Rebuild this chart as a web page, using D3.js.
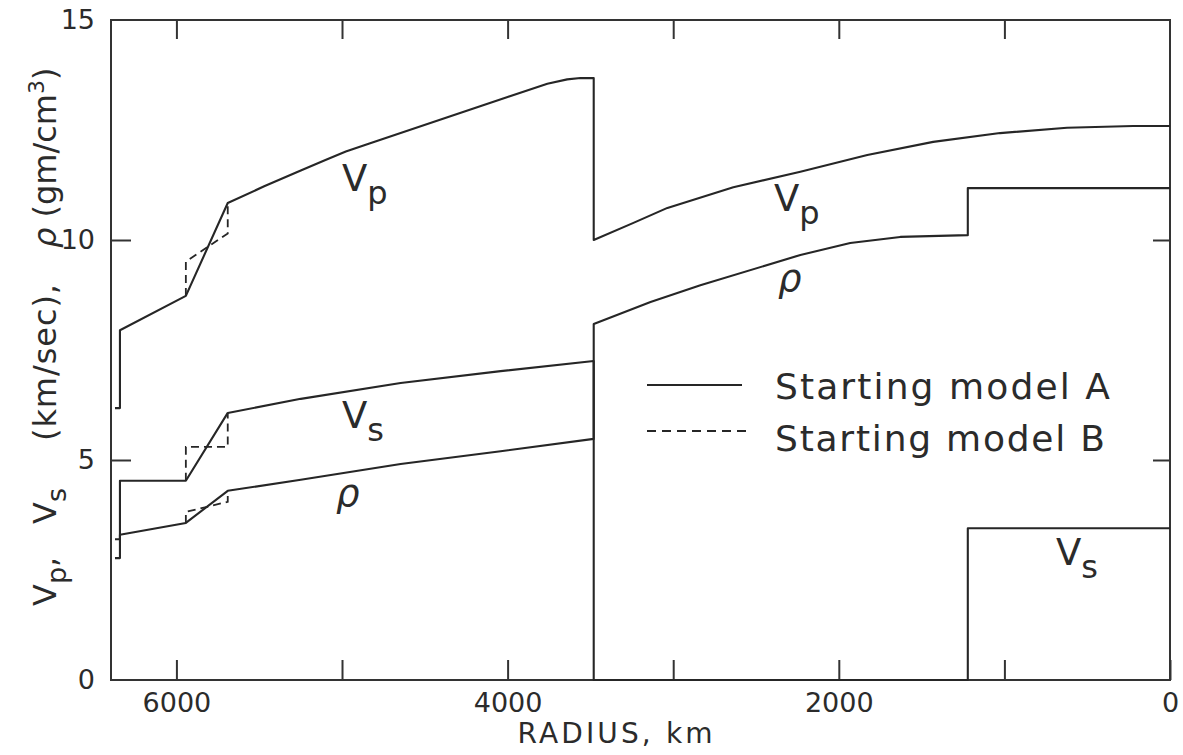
<!DOCTYPE html>
<html>
<head>
<meta charset="utf-8">
<script src="https://cdn.jsdelivr.net/npm/d3@7"></script>
<style>
  html, body { margin: 0; padding: 0; background: #fff; }
  svg { display: block; }
  text { font-family: "DejaVu Sans", "Liberation Sans", sans-serif; fill: #2b2b2b; }
</style>
</head>
<body>
<svg id="chart" width="1183" height="755"></svg>
<script>
// Radius ticks (km) and labelled ticks
const radiusTicks = [6000, 5000, 4000, 3000, 2000, 1000, 0];
const radiusLabels = [6000, 4000, 2000, 0];
const valueLabels = [0, 5, 10, 15];
const valueTickMarks = [5, 10];

// Starting model A: [radius km, value]
const vpModelA = [
  [6371, 6.18], [6341, 6.18], [6341, 7.95], [5943, 8.73], [5690, 10.84],
  [5470, 11.22], [5249, 11.58], [5100, 11.82], [4977, 12.01], [4830, 12.2],
  [4646, 12.43], [4000, 13.25], [3760, 13.55], [3640, 13.65], [3560, 13.68],
  [3480, 13.68], [3480, 10.0], [3240, 10.39], [3035, 10.73], [2637, 11.2],
  [2232, 11.55], [1828, 11.93], [1430, 12.23], [1026, 12.43], [622, 12.55],
  [223, 12.59], [0, 12.59]
];
const vsModelA = [
  [6371, 3.2], [6341, 3.2], [6341, 4.53], [5943, 4.53], [5690, 6.07],
  [5249, 6.39], [4646, 6.75], [4042, 7.02], [3480, 7.25], [3480, 0],
  [1221, 0], [1221, 3.45], [0, 3.45]
];
const rhoModelA = [
  [6371, 2.77], [6341, 2.77], [6341, 3.30], [5943, 3.57], [5690, 4.30],
  [5249, 4.55], [4646, 4.91], [4042, 5.20], [3480, 5.48], [3480, 8.09],
  [3137, 8.59], [2836, 8.97], [2232, 9.66], [1931, 9.93], [1629, 10.07],
  [1221, 10.11], [1221, 11.18], [0, 11.18]
];

// Starting model B differs only across the transition zone
const vpModelB = [[5943, 8.73], [5943, 9.51], [5690, 10.15], [5690, 10.84]];
const vsModelB = [[5943, 4.53], [5943, 5.30], [5690, 5.30], [5690, 6.07]];
const rhoModelB = [[5943, 3.57], [5943, 3.82], [5690, 4.05], [5690, 4.30]];

const svg = d3.select("#chart");
const plotLeft = 111, plotRight = 1170, plotTop = 20, plotBottom = 680;

const x = d3.scaleLinear().domain([6395, 0]).range([plotLeft, plotRight]);
const y = d3.scaleLinear().domain([0, 15]).range([plotBottom, plotTop]);

const ink = "#262626";

// Frame
svg.append("rect")
  .attr("x", plotLeft).attr("y", plotTop)
  .attr("width", plotRight - plotLeft).attr("height", plotBottom - plotTop)
  .attr("fill", "none").attr("stroke", "#333").attr("stroke-width", 2);

function styleAxis(g) {
  g.select(".domain").remove();
  g.selectAll(".tick line").attr("stroke", "#333").attr("stroke-width", 2);
  g.selectAll("text").style("font-family", '"DejaVu Sans", sans-serif')
    .style("font-size", "27px").attr("fill", "#2b2b2b");
}

// Bottom axis: inward ticks, labels every 2000 km
svg.append("g").attr("transform", `translate(0,${plotBottom})`)
  .call(d3.axisBottom(x).tickValues(radiusTicks).tickSize(-20).tickPadding(13)
    .tickFormat(d => radiusLabels.includes(d) ? String(d) : ""))
  .call(styleAxis);

// Top axis: ticks only
svg.append("g").attr("transform", `translate(0,${plotTop})`)
  .call(d3.axisTop(x).tickValues(radiusTicks.filter(d => d > 0)).tickSize(-19).tickFormat(""))
  .call(styleAxis);

// Left axis
svg.append("g").attr("transform", `translate(${plotLeft},0)`)
  .call(d3.axisLeft(y).tickValues(valueLabels).tickSize(-20).tickPadding(16))
  .call(styleAxis)
  .call(g => g.selectAll(".tick").filter(d => !valueTickMarks.includes(d)).select("line").remove());

// Right axis: ticks only
svg.append("g").attr("transform", `translate(${plotRight},0)`)
  .call(d3.axisRight(y).tickValues(valueTickMarks).tickSize(-17).tickFormat(""))
  .call(styleAxis);

// Curves
const line = d3.line().x(d => x(d[0])).y(d => y(d[1]));

[vpModelA, vsModelA, rhoModelA].forEach(s => {
  svg.append("path").attr("d", line(s))
    .attr("fill", "none").attr("stroke", ink).attr("stroke-width", 2.1)
    .attr("stroke-linejoin", "round");
});
[vpModelB, vsModelB, rhoModelB].forEach(s => {
  svg.append("path").attr("d", line(s))
    .attr("fill", "none").attr("stroke", ink).attr("stroke-width", 1.8)
    .attr("stroke-dasharray", "8,5");
});

// Curve labels
function subLabel(px, py, main, sub, italic) {
  const t = svg.append("text").attr("x", px).attr("y", py)
    .style("font-size", "37px");
  t.append("tspan").text(main).style("font-style", italic ? "italic" : "normal");
  if (sub) t.append("tspan").attr("dy", 13).style("font-size", "32px").text(sub);
}
subLabel(342, 191, "V", "p");
subLabel(342, 428, "V", "s");
subLabel(336, 506, "ρ", null, true);
subLabel(774, 211, "V", "p");
subLabel(778, 291, "ρ", null, true);
subLabel(1056, 565, "V", "s");

// Legend
svg.append("line").attr("x1", 647).attr("x2", 742).attr("y1", 385).attr("y2", 385)
  .attr("stroke", ink).attr("stroke-width", 2);
svg.append("line").attr("x1", 647).attr("x2", 750).attr("y1", 431).attr("y2", 431)
  .attr("stroke", ink).attr("stroke-width", 1.8).attr("stroke-dasharray", "9,6");
svg.append("text").attr("x", 775).attr("y", 399).style("font-size", "36px")
  .attr("textLength", 335).attr("lengthAdjust", "spacing").text("Starting  model  A");
svg.append("text").attr("x", 775).attr("y", 451).style("font-size", "36px")
  .attr("textLength", 330).attr("lengthAdjust", "spacing").text("Starting  model  B");

// X axis title
svg.append("text").attr("x", 615).attr("y", 743).attr("text-anchor", "middle")
  .style("font-size", "28px").attr("textLength", 195).attr("lengthAdjust", "spacing")
  .text("RADIUS,  km");

// Y axis title, in pieces reading upward
const yTitle = svg.append("g").attr("transform", "translate(56,0)");
function vText(yStart) {
  return yTitle.append("text")
    .attr("transform", `translate(0,${yStart}) rotate(-90)`)
    .style("font-size", "32px");
}
const t1 = vText(606);
t1.append("tspan").text("V");
t1.append("tspan").attr("dy", 10).style("font-size", "27px").text("p");
t1.append("tspan").attr("dy", -10).text(",");
const t2 = vText(524);
t2.append("tspan").text("V");
t2.append("tspan").attr("dy", 10).style("font-size", "27px").text("s");
vText(441).attr("textLength", 157).attr("lengthAdjust", "spacing").text("(km/sec),");
const t4 = vText(248);
t4.append("tspan").style("font-style", "italic").text("ρ");
t4.append("tspan").text(" (gm/cm");
t4.append("tspan").attr("dy", -12).style("font-size", "22px").text("3");
t4.append("tspan").attr("dy", 12).text(")");
</script>
</body>
</html>
